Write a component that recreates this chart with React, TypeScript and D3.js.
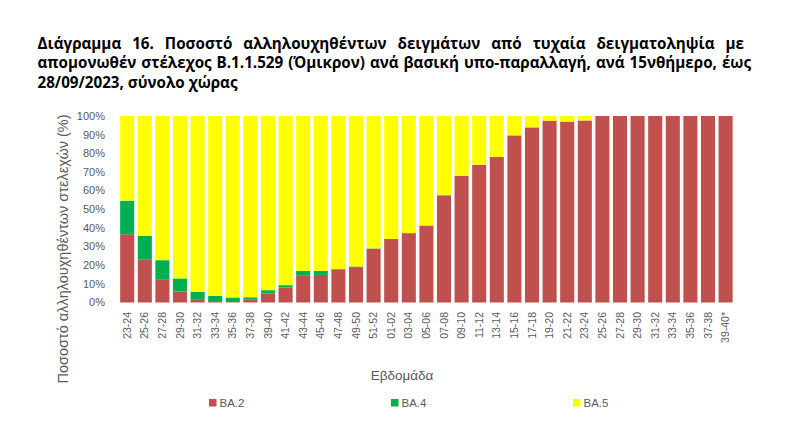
import React from "react";
import * as d3 from "d3";

const weeks = [
  "23-24", "25-26", "27-28", "29-30", "31-32", "33-34", "35-36", "37-38", "39-40", "41-42",
  "43-44", "45-46", "47-48", "49-50", "51-52", "01-02", "03-04", "05-06", "07-08", "09-10",
  "11-12", "13-14", "15-16", "17-18", "19-20", "21-22", "23-24 ", "25-26 ", "27-28 ", "29-30 ",
  "31-32 ", "33-34 ", "35-36 ", "37-38 ", "39-40*",
];
const ba2 = [36.6, 22.9, 12.5, 5.9, 1.8, 0.3, 0.2, 1.5, 4.8, 8.0, 14.3, 14.8, 17.7, 19.0, 28.8, 34.1, 37.2, 41.3, 57.5, 68.0, 73.8, 78.0, 89.6, 93.9, 97.5, 97.0, 97.6, 100, 100, 100, 100, 100, 100, 100, 100];
const ba4 = [18.0, 12.8, 10.2, 7.0, 3.9, 3.3, 2.5, 1.3, 1.8, 1.3, 2.7, 2.2, 0.3, 0.3, 0.2, 0, 0, 0, 0, 0, 0, 0, 0, 0, 0, 0, 0, 0, 0, 0, 0, 0, 0, 0, 0];
const ba5 = [45.4, 64.3, 77.3, 87.1, 94.3, 96.4, 97.3, 97.2, 93.4, 90.7, 83.0, 83.0, 82.0, 80.7, 71.0, 65.9, 62.8, 58.7, 42.5, 32.0, 26.2, 22.0, 10.4, 6.1, 2.5, 3.0, 2.4, 0, 0, 0, 0, 0, 0, 0, 0];
const seriesNames = ["BA.2", "BA.4", "BA.5"];
const seriesColors = ["#C0504D", "#00B050", "#FFFF00"];
const yTicks = [0, 10, 20, 30, 40, 50, 60, 70, 80, 90, 100];

const titleLines = [
  "Διάγραμμα 16. Ποσοστό αλληλουχηθέντων δειγμάτων από τυχαία δειγματοληψία με",
  "απομονωθέν στέλεχος Β.1.1.529 (Όμικρον) ανά βασική υπο-παραλλαγή, ανά 15νθήμερο, έως",
  "28/09/2023, σύνολο χώρας",
];

const TITLE_SIZE = 15.2;
const TITLE_FONT = `bold ${TITLE_SIZE}px 'Open Sans'`;
const TITLE_FAMILY = "'Open Sans', sans-serif";

function measure(text: string): number {
  if (typeof document === "undefined") return text.length * 7;
  const c = document.createElement("canvas");
  const ctx = c.getContext("2d")!;
  ctx.font = TITLE_FONT;
  return ctx.measureText(text).width;
}

function JustifiedLine({ text, x0, x1, y, justify }: { text: string; x0: number; x1: number; y: number; justify: boolean }) {
  const words = text.split(" ");
  if (!justify) {
    return (
      <text x={x0} y={y} fontFamily={TITLE_FAMILY} fontWeight="bold" fontSize={TITLE_SIZE} fill="#000">
        {text}
      </text>
    );
  }
  const widths = words.map(measure);
  const total = widths.reduce((a, b) => a + b, 0);
  const gap = (x1 - x0 - total) / (words.length - 1);
  let cx = x0;
  const xs = widths.map((w) => {
    const p = cx;
    cx += w + gap;
    return p;
  });
  return (
    <g>
      {words.map((w, i) => (
        <text key={i} x={xs[i]} y={y} fontFamily={TITLE_FAMILY} fontWeight="bold" fontSize={TITLE_SIZE} fill="#000">
          {w}
        </text>
      ))}
    </g>
  );
}

export default function App() {
  const W = 800;
  const H = 435;
  const x = d3.scaleBand<string>().domain(weeks).range([118.4, 734.4]).paddingInner(0.2).paddingOuter(0.1);
  const y = d3.scaleLinear().domain([0, 100]).range([302.5, 116]);

  const rows = weeks.map((w, i) => ({ week: w, "BA.2": ba2[i], "BA.4": ba4[i], "BA.5": ba5[i] }));
  const stack = d3.stack<any>().keys(seriesNames);
  const stacked = stack(rows);

  const gray = "#595959";
  const labelFont = "'Liberation Sans', Arial, sans-serif";

  const legendItems = [
    { name: "BA.2", x: 209 },
    { name: "BA.4", x: 391 },
    { name: "BA.5", x: 573 },
  ];

  return (
    <svg width={W} height={H} style={{ position: "absolute", left: 0, top: 0, background: "#fff" }}>
      <rect x={0} y={0} width={W} height={H} fill="#fff" />
      <JustifiedLine text={titleLines[0]} x0={37.5} x1={744} y={49} justify={true} />
      <JustifiedLine text={titleLines[1]} x0={37.5} x1={751} y={68} justify={true} />
      <JustifiedLine text={titleLines[2]} x0={37.5} x1={238} y={87.5} justify={false} />

      {stacked.map((s, si) => (
        <g key={s.key} fill={seriesColors[si]}>
          {s.map((d, i) => {
            const h = y(d[0]) - y(d[1]);
            if (h <= 0) return null;
            return <rect key={i} x={x(weeks[i])} y={y(d[1])} width={x.bandwidth()} height={h} />;
          })}
        </g>
      ))}

      {yTicks.map((t) => (
        <text key={t} x={105} y={y(t)} dy="0.35em" textAnchor="end" fontFamily={labelFont} fontSize={11} fill={gray}>
          {t + "%"}
        </text>
      ))}

      {weeks.map((w) => (
        <text
          key={w}
          transform={`translate(${(x(w) as number) + x.bandwidth() / 2},${312}) rotate(-90)`}
          textAnchor="end"
          dy="0.35em"
          fontFamily={labelFont}
          fontSize={10.5}
          fill={gray}
        >
          {w.trim()}
        </text>
      ))}

      <text
        transform={`translate(68,249) rotate(-90)`}
        textAnchor="middle"
        fontFamily={labelFont}
        fontSize={14.5}
        fill={gray}
      >
        Ποσοστό αλληλουχηθέντων στελεχών (%)
      </text>

      <text x={402} y={380} textAnchor="middle" fontFamily={labelFont} fontSize={13.5} fill={gray}>
        Εβδομάδα
      </text>

      {legendItems.map((l, i) => (
        <g key={l.name}>
          <rect x={l.x} y={399} width={7.5} height={7.5} fill={seriesColors[i]} />
          <text x={l.x + 10.5} y={403} dy="0.35em" fontFamily={labelFont} fontSize={11.5} fill={gray}>
            {l.name}
          </text>
        </g>
      ))}
    </svg>
  );
}
